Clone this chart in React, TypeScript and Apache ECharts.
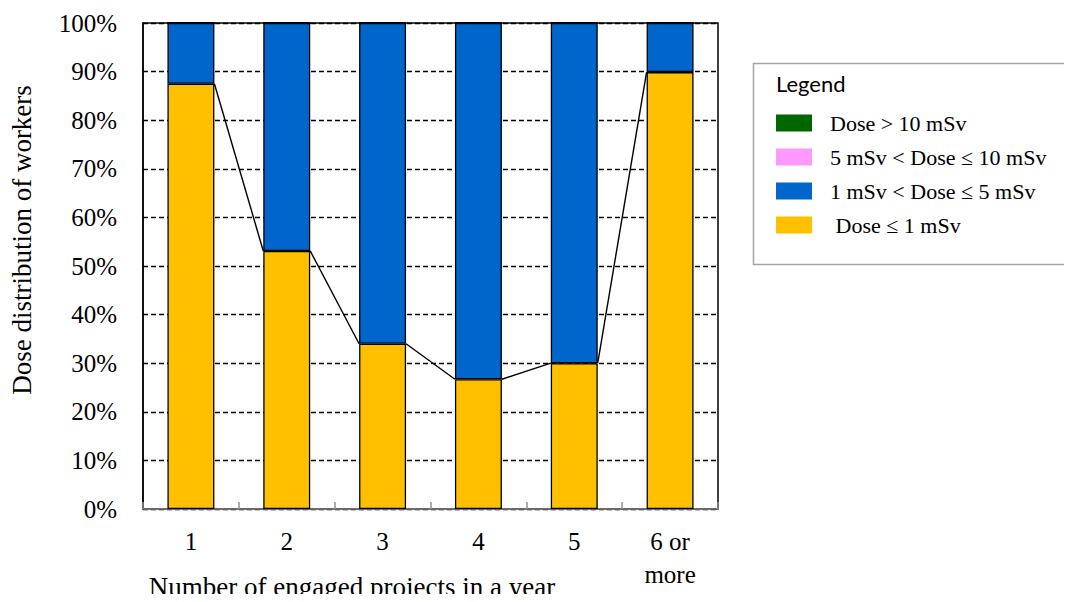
import React, { useEffect, useRef } from "react";
import * as echarts from "echarts";

const categories = ["1", "2", "3", "4", "5", "6 or\nmore"];
const doseLe1 = [87.5, 53.1, 34.0, 26.7, 30.0, 89.9];
const dose1to5 = [12.5, 46.9, 66.0, 73.3, 70.0, 10.1];
const dose5to10 = [0, 0, 0, 0, 0, 0];
const doseGt10 = [0, 0, 0, 0, 0, 0];
const yTicks = [0, 10, 20, 30, 40, 50, 60, 70, 80, 90, 100];

const seriesNames = {
  gt10: "Dose > 10 mSv",
  m5to10: "5 mSv < Dose ≤ 10 mSv",
  m1to5: "1 mSv < Dose ≤ 5 mSv",
  le1: " Dose ≤ 1 mSv",
};

const serif = "'Liberation Serif', 'Times New Roman', serif";

export default function App() {
  const ref = useRef<HTMLDivElement>(null);
  useEffect(() => {
    if (!ref.current) return;
    const chart = echarts.init(ref.current, undefined, { renderer: "svg" });
    const barWidthRatio = 0.49;
    const seriesLineData = doseLe1.slice(0, -1).map((v, i) => [i, v, doseLe1[i + 1]]);
    const barStyle = (color: string) => ({
      color,
      borderColor: "#000",
      borderWidth: 1.3,
    });
    chart.setOption({
      animation: false,
      backgroundColor: "#fff",
      grid: { left: 143, top: 23, right: 354, bottom: 93, show: true, borderColor: "#000", borderWidth: 1.5, backgroundColor: "transparent" },
      xAxis: {
        type: "category",
        data: categories,
        axisLine: { lineStyle: { color: "#808080", width: 1.5 } },
        axisTick: { show: true, inside: true, length: 7, lineStyle: { color: "#909090", width: 1.5 } },
        axisLabel: { color: "#000", fontFamily: serif, fontSize: 25, margin: 16, lineHeight: 33 },
      },
      yAxis: {
        type: "value",
        min: 0,
        max: 100,
        interval: 10,
        axisLine: { show: true, lineStyle: { color: "#000", width: 1.5 } },
        axisTick: { show: false },
        axisLabel: {
          color: "#000",
          fontFamily: serif,
          fontSize: 25,
          margin: 26,
          formatter: (v: number) => (yTicks.includes(v) ? `${v}%` : ""),
        },
        splitLine: { show: true, lineStyle: { color: "#000", type: [5, 3], width: 1.3 } },
      },
      legend: {
        orient: "vertical",
        left: 771,
        top: 107,
        itemWidth: 36,
        itemHeight: 17,
        itemGap: 12,
        icon: "rect",
        itemStyle: { borderWidth: 0 },
        data: [seriesNames.gt10, seriesNames.m5to10, seriesNames.m1to5, seriesNames.le1],
        textStyle: { fontFamily: serif, fontSize: 22, lineHeight: 22, color: "#000", padding: [0, 0, 0, 13] },
      },
      graphic: [
        {
          type: "rect",
          shape: { x: 753.5, y: 63.5, width: 316, height: 201 },
          style: { fill: "transparent", stroke: "#a6a6a6", lineWidth: 1.5 },
        },
        {
          type: "text",
          x: 776,
          y: 72,
          style: { text: "Legend", font: "22px Lato, 'Open Sans', sans-serif", fill: "#000" },
        },
        {
          type: "text",
          x: 22,
          y: 240,
          rotation: Math.PI / 2,
          style: {
            text: "Dose distribution of workers",
            font: `27px ${serif}`,
            fill: "#000",
            align: "center",
            verticalAlign: "middle",
          },
        },
        {
          type: "text",
          x: 352,
          y: 587,
          style: {
            text: "Number of engaged projects in a year",
            font: `27px ${serif}`,
            fill: "#000",
            align: "center",
            verticalAlign: "middle",
          },
        },
      ],
      series: [
        { name: seriesNames.le1, type: "bar", stack: "a", barWidth: "49%", data: doseLe1, itemStyle: barStyle("#FFC000") },
        { name: seriesNames.m1to5, type: "bar", stack: "a", barWidth: "49%", data: dose1to5, itemStyle: barStyle("#0066CC") },
        { name: seriesNames.m5to10, type: "bar", stack: "a", barWidth: "49%", data: dose5to10, itemStyle: barStyle("#FF99FF") },
        { name: seriesNames.gt10, type: "bar", stack: "a", barWidth: "49%", data: doseGt10, itemStyle: barStyle("#006600") },
        {
          type: "custom",
          name: "seriesLines",
          data: seriesLineData,
          encode: { x: 0, y: 1 },
          z: 5,
          silent: true,
          renderItem: (params: any, api: any) => {
            const i = api.value(0);
            const p1 = api.coord([i, api.value(1)]);
            const p2 = api.coord([i + 1, api.value(2)]);
            const bw = api.size([1, 0])[0] * barWidthRatio;
            return {
              type: "line",
              shape: { x1: p1[0] + bw / 2, y1: p1[1], x2: p2[0] - bw / 2, y2: p2[1] },
              style: { stroke: "#000", lineWidth: 1.4 },
            };
          },
        },
      ],
    });
    return () => chart.dispose();
  }, []);
  return <div ref={ref} style={{ width: 1072, height: 602, margin: -8 }} />;
}
